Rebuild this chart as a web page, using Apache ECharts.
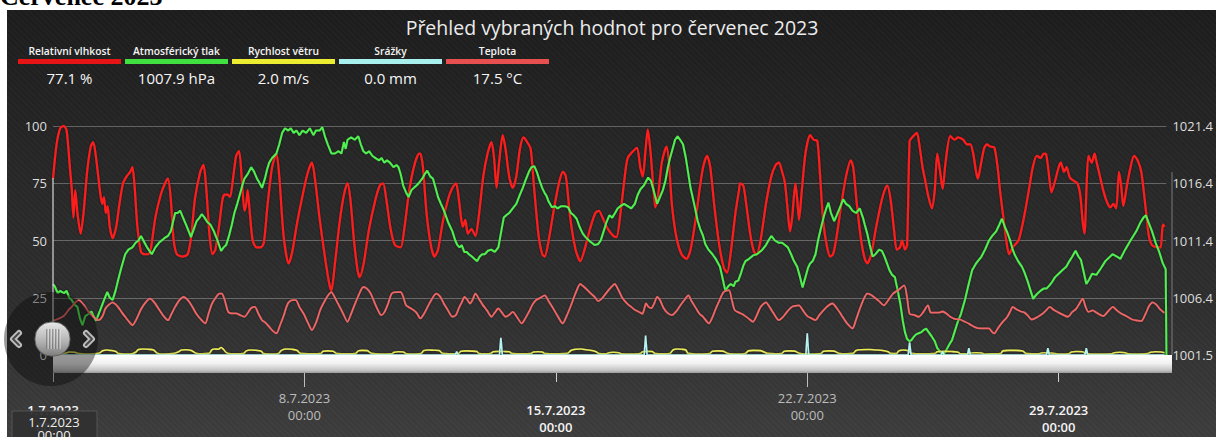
<!DOCTYPE html>
<html>
<head>
<meta charset="utf-8">
<script src="https://cdn.jsdelivr.net/npm/echarts@6/dist/echarts.min.js"></script>
<style>
  html, body { margin: 0; padding: 0; background: #fff; width: 1216px; height: 437px; overflow: hidden; }
  #heading { position: absolute; left: 0; top: -16px; font: bold 26px/26px "Liberation Serif", serif; color: #000; white-space: nowrap; }
  #bg { position: absolute; left: 7px; top: 10px; right: 0; bottom: 0;
        background:
          repeating-linear-gradient(45deg, rgba(255,255,255,0.018) 0 2px, rgba(0,0,0,0) 2px 4px),
          linear-gradient(to bottom, #1c1c1c 0%, #262626 35%, #2e2e2e 70%, #3c3c3c 100%); }
  #chart { position: absolute; left: 0; top: 0; width: 1216px; height: 437px; }
</style>
</head>
<body>
<div id="heading">Červenec 2023</div>
<div id="bg"></div>
<div id="chart"></div>
<script>
// ---------------- DATA (x = days since 1.7.2023 00:00) ----------------
const chartTitle = 'Přehled vybraných hodnot pro červenec 2023';
const legendNames  = ['Relativní vlhkost', 'Atmosférický tlak', 'Rychlost větru', 'Srážky', 'Teplota'];
const legendValues = ['77.1 %', '1007.9 hPa', '2.0 m/s', '0.0 mm', '17.5 °C'];

const tickDays   = [0, 7, 14, 21, 28];
const tickDates  = ['1.7.2023', '8.7.2023', '15.7.2023', '22.7.2023', '29.7.2023'];
const tickTime   = '00:00';

const leftTicks  = [0, 25, 50, 75, 100];
const rightTicks = [1001.4, 1006.4, 1011.4, 1016.4, 1021.4];
const rightTickLabels = ['1001.5', '1006.4', '1011.4', '1016.4', '1021.4'];

const humidity = [
[0,77],[0.1,92],[0.2,99],[0.3,100],[0.38,98],[0.48,80],[0.52,73],[0.57,60],[0.62,72],[0.68,62],[0.77,53],[0.85,62],[0.95,80],[1.05,91],[1.12,93],[1.2,86],[1.32,70],[1.37,66],[1.42,69],[1.47,62],[1.52,65],[1.58,56],[1.66,51],[1.76,56],[1.85,66],[1.95,75],[2.05,78],[2.15,80],[2.21,82],[2.27,74],[2.35,56],[2.45,45],[2.55,44],[2.65,44],[2.72,46],[2.85,60],[3.0,70],[3.12,75],[3.2,77],[3.28,68],[3.36,50],[3.45,44],[3.6,43],[3.75,44],[3.85,52],[3.95,68],[4.1,80],[4.19,83],[4.27,72],[4.36,52],[4.44,44],[4.52,46],[4.62,56],[4.72,68],[4.78,70],[4.86,70],[4.93,69],[5.02,78],[5.1,87],[5.18,89],[5.26,76],[5.33,63],[5.38,66],[5.42,72],[5.48,62],[5.56,50],[5.67,47],[5.78,47],[5.87,49],[5.97,65],[6.1,82],[6.22,88],[6.3,78],[6.42,52],[6.56,40],[6.66,45],[6.8,58],[6.98,72],[7.1,80],[7.21,84],[7.3,76],[7.42,60],[7.55,45],[7.68,32],[7.75,28],[7.85,40],[7.98,58],[8.1,70],[8.2,75],[8.28,68],[8.38,50],[8.48,37],[8.54,34],[8.65,40],[8.8,55],[8.98,68],[9.1,74],[9.19,75],[9.28,68],[9.4,55],[9.52,48],[9.68,47],[9.78,55],[9.92,72],[10.08,84],[10.2,88],[10.23,88],[10.3,82],[10.4,62],[10.52,48],[10.62,43],[10.72,46],[10.85,58],[11.0,68],[11.12,73],[11.22,75],[11.3,68],[11.36,60],[11.41,56],[11.48,59],[11.55,53],[11.65,55],[11.76,52],[11.85,60],[11.98,78],[12.1,88],[12.21,93],[12.28,86],[12.35,73],[12.42,84],[12.52,96],[12.6,90],[12.7,78],[12.8,73],[12.9,78],[13.0,90],[13.1,95],[13.2,93],[13.3,90],[13.4,72],[13.52,52],[13.62,44],[13.69,43],[13.8,50],[13.95,64],[14.1,76],[14.2,80],[14.28,78],[14.4,60],[14.55,46],[14.68,41],[14.8,46],[14.95,55],[15.1,62],[15.2,63],[15.3,60],[15.45,55],[15.6,52],[15.69,51.5],[15.8,62],[15.92,78],[16.0,86],[16.15,89],[16.26,90.5],[16.35,82],[16.42,78],[16.5,90],[16.56,98.5],[16.64,88],[16.72,72],[16.77,64.5],[16.85,70],[16.95,84],[17.08,91],[17.15,84],[17.23,66],[17.35,52],[17.5,44],[17.64,42],[17.75,46],[17.88,58],[18.0,72],[18.1,82],[18.21,87],[18.3,82],[18.42,64],[18.55,48],[18.68,38],[18.77,36],[18.88,46],[19.0,62],[19.1,72],[19.13,75],[19.22,74],[19.3,66],[19.42,52],[19.52,45],[19.59,44],[19.7,50],[19.85,66],[20.0,78],[20.12,83],[20.21,84],[20.3,80],[20.38,75],[20.45,64],[20.52,54],[20.58,60],[20.67,75],[20.72,68],[20.77,59],[20.85,72],[20.95,88],[21.08,96],[21.18,94],[21.28,93.5],[21.35,80],[21.44,59],[21.54,48],[21.64,43],[21.72,44],[21.82,52],[21.95,66],[22.08,78],[22.21,85],[22.28,82],[22.38,66],[22.5,50],[22.6,42],[22.67,40],[22.78,44],[22.92,56],[23.08,68],[23.18,73],[23.23,74],[23.32,68],[23.42,54],[23.49,46],[23.58,47],[23.64,50],[23.72,46],[23.78,48],[23.85,93.5],[23.92,95],[24.05,97],[24.12,92],[24.21,82],[24.3,75],[24.36,70],[24.47,64],[24.55,72],[24.62,88],[24.7,80],[24.77,72.5],[24.85,84],[24.98,95.6],[25.1,94],[25.2,95],[25.34,94],[25.45,92],[25.54,92],[25.62,88],[25.7,80],[25.75,77],[25.82,82],[25.92,90],[26.0,92],[26.1,91],[26.21,90.6],[26.3,82],[26.38,70],[26.47,59],[26.55,49],[26.62,44],[26.72,47],[26.88,50],[26.98,56],[27.08,64],[27.18,73],[27.28,82],[27.39,87],[27.5,86],[27.58,88],[27.65,87.7],[27.72,80],[27.8,71],[27.9,76],[28.0,82],[28.06,84],[28.15,80],[28.22,82],[28.31,77.5],[28.42,76],[28.52,75],[28.6,70],[28.67,58],[28.72,53],[28.78,75],[28.83,87],[28.92,84],[29.0,88],[29.03,86],[29.12,80],[29.24,72],[29.34,67],[29.44,64.5],[29.52,66],[29.6,64],[29.68,80],[29.74,74],[29.8,65],[29.9,74],[30.0,82],[30.1,87],[30.2,85],[30.3,80],[30.43,63],[30.51,52],[30.6,48],[30.75,47],[30.84,47],[30.9,57],[30.95,56]
];

const pressure = [
[0,1007.6],[0.05,1007.4],[0.13,1006.8],[0.2,1007.0],[0.3,1006.8],[0.38,1007.0],[0.45,1006.4],[0.52,1006.2],[0.6,1005.8],[0.68,1005.6],[0.75,1004.6],[0.82,1004.0],[0.9,1004.8],[1.0,1005.0],[1.07,1005.2],[1.13,1004.8],[1.2,1004.4],[1.3,1005.2],[1.42,1006.2],[1.51,1006.9],[1.58,1006.4],[1.66,1006.2],[1.74,1007.0],[1.81,1007.9],[1.9,1009.0],[2.01,1010.2],[2.1,1010.6],[2.21,1010.8],[2.3,1011.2],[2.38,1011.4],[2.45,1011.8],[2.55,1011.2],[2.62,1010.8],[2.75,1010.2],[2.85,1010.8],[2.95,1011.2],[3.1,1011.6],[3.2,1011.8],[3.28,1012.2],[3.34,1013.0],[3.4,1013.8],[3.47,1013.8],[3.54,1014.0],[3.62,1013.4],[3.7,1012.8],[3.78,1012.2],[3.84,1011.7],[3.92,1012.4],[4.0,1013.1],[4.08,1013.4],[4.14,1013.7],[4.22,1013.4],[4.3,1013.0],[4.38,1012.8],[4.48,1012.2],[4.58,1011.4],[4.68,1010.5],[4.75,1010.8],[4.82,1011.0],[4.9,1011.8],[4.98,1012.8],[5.05,1013.8],[5.13,1014.6],[5.2,1015.4],[5.27,1016.2],[5.33,1016.8],[5.42,1017.2],[5.52,1017.8],[5.6,1017.4],[5.68,1016.8],[5.72,1016.6],[5.82,1016.0],[5.9,1016.8],[5.96,1017.6],[6.02,1018.2],[6.1,1018.6],[6.22,1019.0],[6.3,1019.8],[6.38,1020.8],[6.46,1021.2],[6.55,1021.0],[6.62,1021.2],[6.7,1020.8],[6.78,1021.0],[6.86,1020.6],[6.95,1021.0],[7.05,1020.8],[7.15,1021.2],[7.25,1020.6],[7.32,1021.0],[7.42,1021.0],[7.5,1021.3],[7.58,1020.4],[7.65,1019.8],[7.75,1019.0],[7.85,1019.0],[7.95,1019.2],[8.03,1019.0],[8.1,1020.0],[8.15,1019.4],[8.2,1020.2],[8.3,1020.4],[8.4,1020.2],[8.5,1020.5],[8.57,1019.8],[8.64,1019.2],[8.72,1019.0],[8.8,1019.2],[8.89,1018.8],[8.98,1018.6],[9.08,1018.4],[9.15,1018.6],[9.22,1018.2],[9.3,1018.4],[9.38,1018.2],[9.48,1017.8],[9.56,1018.0],[9.62,1017.8],[9.68,1017.2],[9.75,1016.2],[9.83,1015.6],[9.9,1015.2],[9.98,1015.8],[10.05,1016.0],[10.12,1016.2],[10.18,1016.4],[10.28,1016.8],[10.35,1017.2],[10.42,1017.5],[10.5,1017.0],[10.58,1016.8],[10.65,1016.0],[10.72,1015.2],[10.8,1014.6],[10.86,1014.2],[10.92,1013.7],[11.0,1013.0],[11.06,1012.6],[11.12,1012.2],[11.2,1011.4],[11.26,1011.0],[11.32,1010.8],[11.38,1011.0],[11.45,1010.4],[11.52,1010.4],[11.58,1010.2],[11.66,1010.0],[11.73,1009.8],[11.81,1009.6],[11.88,1010.0],[11.95,1010.2],[12.02,1010.2],[12.11,1010.5],[12.2,1010.6],[12.3,1010.4],[12.4,1010.8],[12.48,1012.2],[12.55,1013.4],[12.62,1013.6],[12.7,1013.8],[12.8,1014.2],[12.9,1014.6],[13.0,1015.4],[13.08,1016.0],[13.15,1016.6],[13.25,1017.4],[13.32,1017.8],[13.4,1017.9],[13.47,1017.4],[13.55,1016.6],[13.62,1016.0],[13.68,1015.6],[13.74,1015.3],[13.8,1014.8],[13.89,1014.3],[13.98,1014.4],[14.05,1014.2],[14.15,1014.4],[14.25,1014.4],[14.34,1014.3],[14.42,1013.8],[14.5,1013.6],[14.58,1013.3],[14.66,1012.6],[14.75,1012.0],[14.83,1011.7],[14.92,1011.4],[15.0,1011.2],[15.08,1011.0],[15.18,1011.1],[15.25,1011.4],[15.33,1012.2],[15.41,1013.0],[15.49,1013.6],[15.57,1013.4],[15.65,1013.8],[15.72,1014.2],[15.8,1014.4],[15.9,1014.6],[16.0,1014.4],[16.1,1014.2],[16.2,1014.6],[16.28,1015.4],[16.36,1015.9],[16.45,1016.2],[16.57,1016.9],[16.65,1016.6],[16.72,1015.8],[16.82,1014.6],[16.9,1015.2],[16.98,1015.8],[17.05,1016.6],[17.12,1017.8],[17.18,1018.6],[17.25,1019.4],[17.32,1020.2],[17.39,1020.5],[17.46,1020.2],[17.54,1019.8],[17.62,1018.6],[17.68,1017.4],[17.75,1016.0],[17.85,1014.6],[17.95,1013.1],[18.02,1012.4],[18.1,1011.8],[18.16,1011.1],[18.25,1010.6],[18.36,1010.2],[18.45,1009.8],[18.57,1009.1],[18.65,1008.0],[18.72,1007.0],[18.8,1007.4],[18.87,1007.6],[18.95,1007.4],[19.0,1007.8],[19.08,1007.9],[19.16,1008.6],[19.22,1009.2],[19.28,1009.6],[19.38,1009.8],[19.49,1010.1],[19.6,1010.2],[19.75,1010.6],[19.85,1011.0],[19.92,1011.4],[20.0,1011.8],[20.1,1011.4],[20.21,1011.2],[20.3,1011.2],[20.38,1011.0],[20.46,1010.8],[20.55,1010.2],[20.63,1009.6],[20.72,1009.1],[20.8,1008.2],[20.87,1007.3],[20.95,1008.2],[21.02,1009.0],[21.08,1009.4],[21.15,1009.6],[21.23,1010.2],[21.3,1011.4],[21.39,1012.6],[21.47,1013.6],[21.53,1014.2],[21.59,1014.7],[21.66,1013.8],[21.75,1013.1],[21.82,1013.6],[21.9,1014.2],[22.0,1015.0],[22.08,1014.6],[22.17,1014.4],[22.26,1014.0],[22.36,1013.8],[22.46,1014.2],[22.55,1013.4],[22.6,1012.8],[22.67,1012.0],[22.74,1011.0],[22.82,1010.0],[22.9,1010.2],[23.0,1010.6],[23.08,1010.5],[23.15,1010.0],[23.22,1009.4],[23.29,1008.8],[23.36,1008.4],[23.44,1008.2],[23.52,1007.0],[23.59,1005.9],[23.66,1004.4],[23.72,1003.4],[23.78,1002.8],[23.85,1002.6],[23.9,1002.7],[23.97,1003.0],[24.03,1003.2],[24.1,1003.3],[24.18,1003.4],[24.25,1003.6],[24.31,1003.7],[24.38,1003.4],[24.47,1003.0],[24.55,1002.6],[24.62,1002.0],[24.67,1001.8],[24.72,1001.6],[24.77,1001.5],[24.83,1001.6],[24.9,1002.0],[24.97,1002.4],[25.03,1002.7],[25.1,1003.4],[25.18,1004.2],[25.28,1005.0],[25.39,1006.2],[25.48,1007.4],[25.59,1008.8],[25.7,1009.4],[25.8,1009.8],[25.85,1010.0],[25.95,1010.6],[26.06,1011.4],[26.15,1011.8],[26.26,1012.2],[26.35,1012.8],[26.42,1013.3],[26.5,1012.6],[26.57,1012.1],[26.65,1011.4],[26.72,1010.6],[26.77,1010.2],[26.87,1009.6],[26.98,1009.1],[27.05,1008.6],[27.13,1007.9],[27.2,1007.2],[27.29,1006.3],[27.36,1006.6],[27.42,1006.8],[27.49,1007.0],[27.58,1007.2],[27.66,1007.2],[27.75,1007.5],[27.82,1007.8],[27.9,1008.2],[28.0,1008.5],[28.1,1008.8],[28.21,1009.1],[28.3,1009.6],[28.38,1010.0],[28.47,1010.5],[28.55,1010.0],[28.62,1009.7],[28.7,1008.6],[28.77,1007.6],[28.85,1008.0],[28.93,1008.5],[29.05,1008.4],[29.18,1009.0],[29.3,1009.6],[29.5,1010.2],[29.62,1010.0],[29.72,1009.8],[29.85,1010.6],[30.0,1011.4],[30.16,1012.2],[30.28,1013.0],[30.36,1013.4],[30.43,1013.6],[30.5,1013.0],[30.6,1012.2],[30.7,1011.2],[30.8,1010.4],[30.9,1009.4],[30.98,1008.9],[31.0,1001.4]
];

const windSpeed = [
[0,0.5],[0.2,0.4],[0.35,0.8],[0.45,1.3],[0.6,1.2],[0.72,0.6],[0.9,0.4],
[1.1,0.5],[1.3,0.9],[1.38,1.9],[1.5,2.2],[1.62,2.0],[1.75,1.5],[1.82,0.6],[2.0,0.4],
[2.2,0.5],[2.3,1.2],[2.38,2.4],[2.5,2.6],[2.65,2.5],[2.8,2.2],[2.9,0.8],[3.1,0.4],
[3.35,0.6],[3.5,1.4],[3.58,2.2],[3.7,2.3],[3.85,2.0],[3.98,0.8],[4.15,0.5],
[4.35,0.7],[4.42,2.2],[4.5,2.6],[4.6,2.5],[4.68,3.3],[4.75,2.4],[4.84,0.9],[5.1,0.5],
[5.3,0.6],[5.38,1.8],[5.5,2.2],[5.65,2.1],[5.8,1.6],[5.86,0.6],[6.1,0.4],
[6.28,0.7],[6.36,2.0],[6.5,2.6],[6.65,2.5],[6.8,2.0],[6.88,0.7],[7.2,0.5],
[7.45,0.6],[7.52,1.6],[7.65,1.8],[7.8,1.6],[7.9,0.6],[8.2,0.5],
[8.42,0.6],[8.5,1.8],[8.62,2.0],[8.75,1.9],[8.86,0.7],[9.15,0.4],
[9.42,0.5],[9.5,1.2],[9.62,1.4],[9.75,1.3],[9.84,0.5],[10.1,0.4],
[10.25,0.6],[10.32,1.9],[10.45,2.2],[10.6,2.1],[10.75,2.0],[10.84,0.7],[11.1,0.5],
[11.28,0.6],[11.36,1.6],[11.5,1.8],[11.65,1.7],[11.8,1.5],[11.86,0.6],[12.05,0.5],
[12.18,0.6],[12.26,1.4],[12.4,1.6],[12.55,1.5],[12.7,1.4],[12.78,0.6],[13.1,0.5],
[13.3,0.6],[13.38,1.3],[13.5,1.4],[13.62,1.3],[13.7,0.6],[14.0,0.5],
[14.33,0.7],[14.42,2.0],[14.55,2.5],[14.7,2.6],[14.85,2.3],[15.0,2.0],[15.12,1.4],[15.2,0.6],
[15.4,0.5],[15.48,1.0],[15.6,1.2],[15.75,1.0],[15.82,0.5],[16.1,0.4],
[16.35,0.6],[16.42,1.4],[16.55,1.6],[16.68,1.5],[16.77,0.6],[17.0,0.5],
[17.18,0.7],[17.26,2.2],[17.38,2.6],[17.5,2.5],[17.62,2.2],[17.68,0.7],[18.0,0.4],
[18.28,0.6],[18.36,1.6],[18.5,1.8],[18.65,1.7],[18.8,0.6],[19.05,0.4],
[19.28,0.7],[19.36,1.8],[19.5,2.0],[19.7,1.9],[19.88,0.7],[20.1,0.5],
[20.28,0.6],[20.36,1.6],[20.5,1.8],[20.65,1.7],[20.8,0.6],[21.1,0.4],
[21.38,0.6],[21.45,1.6],[21.6,1.8],[21.75,1.7],[21.9,0.6],[22.1,0.5],
[22.28,0.7],[22.36,2.0],[22.5,2.3],[22.7,2.4],[22.9,2.2],[23.1,2.0],[23.25,1.4],[23.32,0.7],
[23.48,0.6],[23.55,1.8],[23.68,2.2],[23.8,2.0],[23.9,0.8],[24.2,0.5],
[24.55,0.6],[24.62,1.4],[24.8,1.6],[25.0,1.5],[25.2,1.2],[25.26,0.5],
[25.48,0.5],[25.55,0.9],[25.7,1.0],[25.85,0.9],[25.92,0.4],[26.2,0.5],
[26.38,0.6],[26.45,1.8],[26.6,2.0],[26.8,2.0],[27.0,1.7],[27.1,0.6],
[27.45,0.5],[27.52,0.9],[27.65,1.0],[27.8,0.8],[28.05,0.4],
[28.28,0.5],[28.36,1.3],[28.5,1.5],[28.65,1.4],[28.8,0.5],[29.1,0.4],
[29.48,0.5],[29.55,1.0],[29.7,1.2],[29.85,1.0],[29.92,0.5],[30.2,0.4],
[30.48,0.6],[30.56,1.2],[30.7,1.4],[30.85,1.3],[30.95,1.0]
];

const rainfall = [
[0,0],[11.2,0],[11.24,1.5],[11.28,0],[12.43,0],[12.47,7.5],[12.51,0],[16.46,0],[16.5,8.5],[16.54,0],
[20.96,0],[21.0,9.5],[21.04,0],[23.81,0],[23.85,5.5],[23.89,0],[24.73,0],[24.77,1.5],[24.81,0],
[25.46,0],[25.5,3],[25.54,0],[27.66,0],[27.7,3],[27.74,0],[28.73,0],[28.77,3],[28.81,0],[30.95,0]
];

const temperature = [
[0,15],[0.1,15.5],[0.3,17],[0.45,20],[0.52,21],[0.62,23],[0.72,24],[0.85,22],[0.98,19],[1.12,16.7],[1.27,15.2],[1.38,17],[1.46,20.3],[1.56,22],[1.66,23],[1.75,22],[1.81,21],[1.92,18.5],[2.01,16.7],[2.12,14.5],[2.21,13],[2.32,15.5],[2.45,20],[2.58,23],[2.7,24.6],[2.82,23],[2.95,20],[3.08,17],[3.2,15.2],[3.3,18],[3.4,21],[3.52,24],[3.64,25.4],[3.72,24.5],[3.8,23],[3.9,20.5],[3.99,18],[4.12,15.5],[4.24,13.8],[4.33,18],[4.43,22.5],[4.53,25],[4.63,26.8],[4.7,26.8],[4.78,24],[4.88,18.8],[5.0,18.2],[5.1,18.2],[5.2,17.5],[5.33,16.7],[5.45,19],[5.52,20.5],[5.62,21],[5.72,18],[5.82,15.2],[5.92,14],[6.02,12.3],[6.12,10.5],[6.22,9.4],[6.32,13],[6.42,17],[6.5,21],[6.56,23],[6.66,24],[6.76,24],[6.86,21],[6.98,18],[7.1,14],[7.21,10.9],[7.32,14],[7.45,20],[7.58,24],[7.68,26.5],[7.75,27.5],[7.85,25],[7.95,22],[8.08,18],[8.2,14.5],[8.3,18],[8.4,22],[8.52,26.5],[8.64,29.7],[8.74,29],[8.84,27],[8.95,23],[9.05,19.5],[9.14,17.4],[9.22,18.5],[9.32,22],[9.43,26.8],[9.55,27.5],[9.68,27.5],[9.76,25],[9.83,21.7],[9.95,20.5],[10.05,19.5],[10.12,18.5],[10.23,16],[10.33,18],[10.43,21],[10.55,24.5],[10.67,26.8],[10.78,25.5],[10.88,22.5],[10.98,20],[11.12,16.7],[11.22,17.5],[11.3,20.5],[11.38,23],[11.46,25.4],[11.54,24],[11.61,22.5],[11.68,24],[11.76,26.8],[11.86,24.5],[11.96,22],[12.08,19.5],[12.21,16.7],[12.3,18.5],[12.4,20.3],[12.5,18.5],[12.6,16.7],[12.7,17.5],[12.8,18.8],[12.92,16.5],[13.05,13.8],[13.15,16],[13.25,18.8],[13.35,22],[13.45,24],[13.57,25],[13.69,26],[13.8,23.5],[13.92,20.5],[14.05,17],[14.19,13.8],[14.3,17],[14.43,22],[14.55,27],[14.68,31],[14.78,29.8],[14.9,28],[15.0,26.5],[15.08,25.4],[15.18,23.5],[15.3,25],[15.45,28],[15.56,30],[15.64,31],[15.74,28.5],[15.85,25],[15.98,22.5],[16.1,21],[16.21,19.6],[16.32,18.8],[16.41,18],[16.46,20],[16.51,22.5],[16.58,21],[16.66,20.5],[16.74,22.5],[16.82,25.4],[16.9,24],[17.0,20.5],[17.1,18.5],[17.23,17.4],[17.34,18.8],[17.46,21.5],[17.58,24],[17.69,26],[17.78,23.5],[17.9,20.5],[18.0,18],[18.1,16.7],[18.26,13.8],[18.36,16.5],[18.46,20.5],[18.56,24],[18.67,27.5],[18.82,28.3],[18.9,24],[18.98,19.6],[19.1,18.5],[19.23,17.5],[19.36,16],[19.49,14.5],[19.6,17.5],[19.7,21],[19.85,23],[19.95,21],[20.05,18.5],[20.21,15.2],[20.32,16.5],[20.42,18.5],[20.57,21],[20.67,21.5],[20.77,21.7],[20.88,19.5],[21.0,17],[21.12,16],[21.23,15.2],[21.34,17.5],[21.45,19.5],[21.58,21.5],[21.7,22.5],[21.82,20.5],[21.95,17.5],[22.1,14],[22.26,11.6],[22.36,15.5],[22.46,20],[22.56,24],[22.67,26.8],[22.78,26.2],[22.88,25],[23.0,23.5],[23.13,21.7],[23.26,24],[23.39,26.8],[23.55,28.5],[23.7,30.4],[23.78,25],[23.85,18],[23.97,17.5],[24.1,16.7],[24.22,18.5],[24.36,21.7],[24.44,18.5],[24.55,18.5],[24.65,18.5],[24.77,19],[24.88,18],[24.98,16.7],[25.1,15.8],[25.25,15.5],[25.39,14.5],[25.52,13.5],[25.65,12.3],[25.8,11.6],[25.95,11.6],[26.06,11.6],[26.15,10],[26.21,9.4],[26.3,11.5],[26.42,14],[26.57,16.7],[26.65,19],[26.72,21],[26.82,20],[26.95,19],[27.05,18.5],[27.13,17.4],[27.25,15.5],[27.4,16.5],[27.55,18],[27.65,19.5],[27.75,21],[27.88,19.5],[28.0,18.5],[28.13,17.5],[28.26,16.7],[28.38,18.8],[28.48,20],[28.58,22.5],[28.67,24.6],[28.75,21],[28.83,18.8],[28.95,19.5],[29.05,18.5],[29.24,17],[29.4,19.5],[29.51,21],[29.62,19.5],[29.75,18],[29.88,17],[30.05,15.5],[30.2,15],[30.3,14.8],[30.42,18],[30.52,21.5],[30.62,23],[30.72,22],[30.82,20],[30.92,18.7],[30.95,18.5]
];

// ---------------- LAYOUT / STYLE ----------------
const W = 1216, H = 437;
const G_LEFT = 53, G_RIGHT = 1172, G_TOP = 126, G_BOTTOM = 355;
const FONT = '"Open Sans", "Noto Sans", sans-serif';
const colors = ['#ff1f1f', '#4ff04f', '#ecec5a', '#b6f4f4', '#f06666'];
const barColors = ['#e61414', '#3fe03f', '#ecec30', '#a8f0ee', '#e85050'];

function dateLabel(v) {
  const i = tickDays.indexOf(Math.round(v));
  return i < 0 ? '' : tickDates[i] + '\n' + tickTime;
}
const lowerDays = tickDays.filter((d, i) => i % 2 === 0);
const upperDays = tickDays.filter((d, i) => i % 2 === 1);

const graphics = [];
graphics.push({ type: 'text', x: 612, y: 27, z: 50,
  style: { text: chartTitle, fill: '#ececec', font: '19.5px ' + FONT, align: 'center', verticalAlign: 'middle' } });
legendNames.forEach((name, i) => {
  const x0 = 18 + i * 107, w = 103, cx = x0 + w / 2;
  graphics.push({ type: 'text', x: cx, y: 51, z: 50,
    style: { text: name, fill: '#f4f4f4', font: '600 10.3px ' + FONT, align: 'center', verticalAlign: 'middle' } });
  graphics.push({ type: 'rect', shape: { x: x0, y: 59, width: w, height: 5 }, z: 50, style: { fill: barColors[i] } });
  graphics.push({ type: 'text', x: cx, y: 78, z: 50,
    style: { text: legendValues[i], fill: '#f6f6f6', font: '15px ' + FONT, align: 'center', verticalAlign: 'middle' } });
});
// axis side lines
graphics.push({ type: 'line', z: 40, shape: { x1: G_LEFT, y1: 178, x2: G_LEFT, y2: G_BOTTOM }, style: { stroke: '#d8d8d8', lineWidth: 1.2 } });
graphics.push({ type: 'line', z: 40, shape: { x1: G_RIGHT, y1: 172, x2: G_RIGHT, y2: G_BOTTOM }, style: { stroke: '#7a7a7a', lineWidth: 1 } });
// white floor bar
graphics.push({ type: 'rect', z: 60, shape: { x: G_LEFT, y: G_BOTTOM, width: G_RIGHT - G_LEFT, height: 18 },
  style: { fill: new echarts.graphic.LinearGradient(0, 0, 0, 1, [
    { offset: 0, color: '#ffffff' }, { offset: 0.45, color: '#f2f2f2' }, { offset: 0.85, color: '#c4c4c4' }, { offset: 1, color: '#9a9a9a' }]) } });
// scroll widget
const cx0 = 51, cy0 = 339;
graphics.push({ type: 'circle', z: 70, shape: { cx: cx0, cy: cy0, r: 47 }, style: { fill: 'rgba(10,10,10,0.42)' } });
graphics.push({ type: 'rect', z: 71, shape: { x: cx0 - 16, y: cy0 - 17, width: 35, height: 34, r: 16 },
  style: { fill: new echarts.graphic.LinearGradient(0, 0, 0, 1, [{ offset: 0, color: '#e8e8e8' }, { offset: 0.6, color: '#b0b0b0' }, { offset: 1, color: '#7e7e7e' }]), stroke: '#606060', lineWidth: 1 } });
[-6, -3, 0, 3, 6].forEach(dx => {
  graphics.push({ type: 'line', z: 72, shape: { x1: cx0 + 2 + dx, y1: cy0 - 10, x2: cx0 + 2 + dx, y2: cy0 + 10 }, style: { stroke: '#5c5c5c', lineWidth: 1 } });
  graphics.push({ type: 'line', z: 72, shape: { x1: cx0 + 3 + dx, y1: cy0 - 10, x2: cx0 + 3 + dx, y2: cy0 + 10 }, style: { stroke: '#f0f0f0', lineWidth: 0.8 } });
});
function chevron(x, dir) {
  const pts = [[x + 6 * dir, cy0 - 6], [x, cy0], [x + 6 * dir, cy0 + 6]];
  graphics.push({ type: 'polyline', z: 72, shape: { points: pts }, style: { stroke: '#bdbdbd', lineWidth: 6, fill: null, lineJoin: 'round', lineCap: 'round' } });
  graphics.push({ type: 'polyline', z: 73, shape: { points: pts }, style: { stroke: '#4a4a4a', lineWidth: 2, fill: null, lineJoin: 'round', lineCap: 'round' } });
}
chevron(13, 1);
chevron(92, -1);
// crosshair date box
graphics.push({ type: 'rect', z: 80, shape: { x: 12, y: 411, width: 85, height: 30 }, style: { fill: 'rgba(48,48,48,0.95)', stroke: '#555', lineWidth: 1 } });
graphics.push({ type: 'text', x: 54, y: 422, z: 81, style: { text: tickDates[0], fill: '#eeeeee', font: '13px ' + FONT, align: 'center', verticalAlign: 'middle' } });
graphics.push({ type: 'text', x: 54, y: 435, z: 81, style: { text: tickTime, fill: '#eeeeee', font: '13px ' + FONT, align: 'center', verticalAlign: 'middle' } });

const chart = echarts.init(document.getElementById('chart'), null, { renderer: 'svg', width: W, height: H });
function line(name, data, color, width, yAxisIndex, smooth) {
  return { name, type: 'line', data, yAxisIndex, xAxisIndex: 0, symbol: 'none', smooth: smooth,
    lineStyle: { color, width, shadowColor: 'rgba(0,0,0,0.5)', shadowBlur: 2 }, itemStyle: { color }, silent: true };
}
chart.setOption({
  animation: false,
  backgroundColor: 'transparent',
  grid: { left: G_LEFT, right: W - G_RIGHT, top: G_TOP, bottom: H - G_BOTTOM, containLabel: false },
  xAxis: [
    { type: 'value', position: 'bottom', min: 0, max: 31, offset: 17,
      axisLine: { show: false }, splitLine: { show: false },
      axisTick: { show: true, length: 27, customValues: lowerDays, lineStyle: { color: '#cfcfcf', width: 1 } },
      axisLabel: { customValues: lowerDays, margin: 29, formatter: dateLabel, color: '#f4f4f4',
                   fontSize: 13, lineHeight: 17, fontFamily: FONT, fontWeight: 600 } },
    { type: 'value', position: 'bottom', min: 0, max: 31, offset: 17,
      axisLine: { show: false }, splitLine: { show: false },
      axisTick: { show: true, length: 15, customValues: upperDays, lineStyle: { color: '#bdbdbd', width: 1 } },
      axisLabel: { customValues: upperDays, margin: 17, formatter: dateLabel, color: '#bcbcbc',
                   fontSize: 13, lineHeight: 17, fontFamily: FONT } }
  ],
  yAxis: [
    { type: 'value', position: 'left', min: 0, max: 100, interval: 25,
      axisLine: { show: false }, axisTick: { show: false },
      splitLine: { show: true, lineStyle: { color: 'rgba(200,200,200,0.38)', width: 1 } },
      axisLabel: { color: '#dedede', fontSize: 13, margin: 6, fontFamily: FONT,
                   formatter: v => leftTicks.indexOf(v) >= 0 ? String(v) : '' } },
    { type: 'value', position: 'right', min: rightTicks[0], max: rightTicks[rightTicks.length - 1],
      axisLine: { show: false }, axisTick: { show: false }, splitLine: { show: false },
      axisLabel: { customValues: rightTicks, color: '#dedede', fontSize: 13, margin: 6, fontFamily: FONT,
        formatter: v => { let bi = 0; rightTicks.forEach((t, i) => { if (Math.abs(t - v) < Math.abs(rightTicks[bi] - v)) bi = i; }); return rightTickLabels[bi]; } } }
  ],
  series: [
    line(legendNames[0], humidity, colors[0], 2.2, 0, 0.25),
    line(legendNames[1], pressure, colors[1], 2, 1, false),
    line(legendNames[2], windSpeed, colors[2], 1.6, 0, 0.3),
    line(legendNames[3], rainfall, colors[3], 1.6, 0, false),
    line(legendNames[4], temperature, colors[4], 1.8, 0, 0.25)
  ],
  graphic: graphics
});
</script>
</body>
</html>
